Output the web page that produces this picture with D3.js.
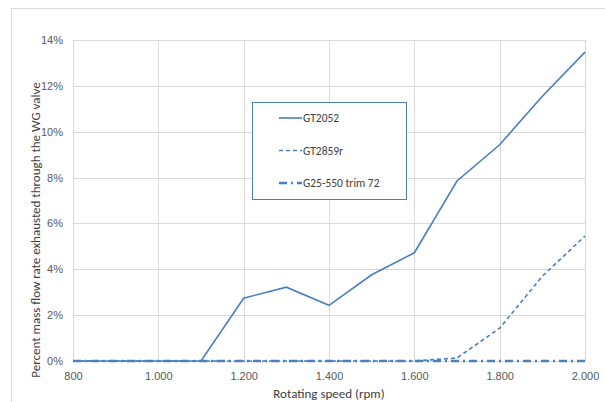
<!DOCTYPE html>
<html>
<head>
<meta charset="utf-8">
<script src="https://cdn.jsdelivr.net/npm/d3@7"></script>
<style>
  body { margin: 0; background: #fff; }
  svg { font-family: Carlito, Lato, "Open Sans", sans-serif; }
  .tick text { fill: #595959; font-size: 11px; }
</style>
</head>
<body>
<svg width="605" height="402"></svg>
<script>
// rotating speed, rpm
var rpm = [800, 900, 1000, 1100, 1200, 1300, 1400, 1500, 1600, 1700, 1800, 1900, 2000];
// percent mass flow through the WG valve
var gt2052 = [0, 0, 0, 0, 2.74, 3.22, 2.43, 3.76, 4.72, 7.85, 9.43, 11.55, 13.47];
var gt2859r = [0, 0, 0, 0, 0, 0, 0, 0, 0, 0.13, 1.43, 3.7, 5.45];
var g25trim72 = [0, 0, 0, 0, 0, 0, 0, 0, 0, 0, 0, 0, 0];
var xTicks = [800, 1000, 1200, 1400, 1600, 1800, 2000];
var yTicks = [0, 2, 4, 6, 8, 10, 12, 14];

var series = [
  {name: "GT2052", values: gt2052, dash: null, width: 1.6},
  {name: "GT2859r", values: gt2859r, dash: "4,3", width: 1.6},
  {name: "G25-550 trim 72", values: g25trim72, dash: "8,4,2,4", width: 2.6}
];

var svg = d3.select("svg"),
    blue = "#4a7fc0",
    m = {top: 40, right: 20, bottom: 41, left: 73},
    w = 605 - m.left - m.right,
    h = 402 - m.top - m.bottom;

// outer chart frame (cut at right/bottom)
svg.append("rect")
    .attr("x", 11.5).attr("y", 8.5)
    .attr("width", 700).attr("height", 500)
    .attr("fill", "none").attr("stroke", "#d9d9d9");

var g = svg.append("g").attr("transform", "translate(" + m.left + "," + m.top + ")");

var x = d3.scaleLinear().domain([800, 2000]).range([0, w]);
var y = d3.scaleLinear().domain([0, 14]).range([h, 0]);

var fmtX = function(d) { return d3.format(",")(d).replace(",", "."); };

// grid
g.append("g")
  .selectAll("line.v").data(xTicks).enter().append("line")
    .attr("x1", function(d) { return Math.round(x(d)) + 0.5; })
    .attr("x2", function(d) { return Math.round(x(d)) + 0.5; })
    .attr("y1", 0).attr("y2", h)
    .attr("stroke", "#d9d9d9");
g.append("g")
  .selectAll("line.h").data(yTicks).enter().append("line")
    .attr("y1", function(d) { return Math.round(y(d)) + 0.5; })
    .attr("y2", function(d) { return Math.round(y(d)) + 0.5; })
    .attr("x1", 0).attr("x2", w)
    .attr("stroke", "#d9d9d9");

var xAxis = g.append("g")
    .attr("transform", "translate(0," + h + ")")
    .call(d3.axisBottom(x).tickValues(xTicks).tickFormat(fmtX).tickSize(0).tickPadding(11));
xAxis.select(".domain").remove();

var yAxis = g.append("g")
    .call(d3.axisLeft(y).tickValues(yTicks).tickFormat(function(d) { return d + "%"; }).tickSize(0).tickPadding(10));
yAxis.select(".domain").remove();

// series
var line = d3.line()
    .x(function(d, i) { return x(rpm[i]); })
    .y(function(d) { return y(d); });

g.selectAll("path.series").data(series).enter().append("path")
    .attr("class", "series")
    .attr("d", function(s) { return line(s.values); })
    .attr("fill", "none")
    .attr("stroke", blue)
    .attr("stroke-width", function(s) { return s.width; })
    .attr("stroke-dasharray", function(s) { return s.dash; });

// axis titles
svg.append("text")
    .attr("x", m.left + w / 2).attr("y", 398)
    .attr("text-anchor", "middle")
    .attr("font-size", 13).attr("fill", "#404040")
    .text("Rotating speed (rpm)");

svg.append("text")
    .attr("transform", "translate(40,230) rotate(-90)")
    .attr("text-anchor", "middle")
    .attr("font-size", 13).attr("fill", "#404040")
    .text("Percent mass flow rate exhausted through the WG valve");

// legend
var lg = svg.append("g").attr("transform", "translate(252,102)");
lg.append("rect")
    .attr("x", 0.5).attr("y", 0.5)
    .attr("width", 154).attr("height", 97)
    .attr("fill", "#fff").attr("stroke", blue);

var item = lg.selectAll("g.item").data(series).enter().append("g")
    .attr("transform", function(d, i) { return "translate(0," + (16 + i * 32.5) + ")"; });
item.append("line")
    .attr("x1", 27).attr("x2", 50)
    .attr("stroke", blue)
    .attr("stroke-width", function(s) { return s.width; })
    .attr("stroke-dasharray", function(s) { return s.dash; });
item.append("text")
    .attr("x", 51).attr("dy", "0.35em")
    .attr("font-size", 11.5).attr("fill", "#404040")
    .text(function(s) { return s.name; });
</script>
</body>
</html>
